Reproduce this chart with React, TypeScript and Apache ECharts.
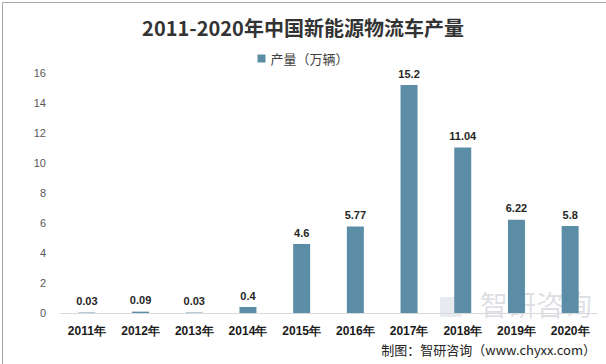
import React, { useEffect, useRef } from "react";
import * as echarts from "echarts";

const categories = ["2011年", "2012年", "2013年", "2014年", "2015年", "2016年", "2017年", "2018年", "2019年", "2020年"];
const production = [0.03, 0.09, 0.03, 0.4, 4.6, 5.77, 15.2, 11.04, 6.22, 5.8];
const seriesName = "产量（万辆）";
const titleText = "2011-2020年中国新能源物流车产量";
const sourceText = "制图：智研咨询（www.chyxx.com）";

export default function App() {
  const ref = useRef<HTMLDivElement>(null);
  useEffect(() => {
    if (!ref.current) return;
    const chart = echarts.init(ref.current, null, { renderer: "svg" });
    chart.setOption({
      animation: false,
      backgroundColor: "#ffffff",
      title: {
        text: titleText,
        left: "center",
        top: 12,
        textStyle: { fontSize: 20, fontWeight: "bold", color: "#333333", fontFamily: "Noto Sans CJK SC" },
      },
      legend: {
        data: [seriesName],
        top: 47,
        left: "center",
        icon: "rect",
        itemWidth: 8,
        itemHeight: 8,
        itemGap: 5,
        textStyle: { fontSize: 13, color: "#404040", fontFamily: "Noto Sans CJK SC" },
      },
      grid: { left: 60, right: 9, top: 73, bottom: 51, containLabel: false },
      xAxis: {
        type: "category",
        data: categories,
        axisLine: { lineStyle: { color: "#d9d9d9" } },
        axisTick: { show: false },
        axisLabel: { fontSize: 12, fontWeight: "bold", color: "#1a1a1a", margin: 12, fontFamily: "Liberation Sans" },
      },
      yAxis: {
        type: "value",
        min: 0,
        max: 16,
        interval: 2,
        splitLine: { show: false },
        axisLine: { show: false },
        axisTick: { show: false },
        axisLabel: { fontSize: 11, color: "#595959", margin: 14, fontFamily: "Liberation Sans" },
      },
      graphic: [
        {
          type: "rect",
          left: 0,
          top: 0,
          shape: { width: 605, height: 363 },
          style: { fill: "none", stroke: "#a6a6a6", lineWidth: 1 },
          silent: true,
        },
        {
          type: "rect",
          left: 440,
          top: 297,
          shape: { width: 22, height: 20, r: 2 },
          style: { fill: "rgba(120,140,170,0.18)" },
          silent: true,
        },
        {
          type: "text",
          right: 14,
          top: 290,
          style: { text: "智研咨询", fontSize: 28, fill: "rgba(120,130,150,0.25)", fontFamily: "Noto Sans CJK SC" },
          silent: true,
        },
        {
          type: "text",
          right: 10,
          top: 343,
          style: { text: sourceText, fontSize: 13, fill: "#222222", fontFamily: "Noto Sans CJK SC" },
        },
      ],
      series: [
        {
          name: seriesName,
          type: "bar",
          data: production,
          barWidth: 17,
          itemStyle: { color: "#5b8ea6" },
          label: {
            show: true,
            position: "top",
            distance: 6,
            fontSize: 11,
            fontWeight: "bold",
            color: "#262626",
            fontFamily: "Liberation Sans",
          },
        },
      ],
    });
    return () => chart.dispose();
  }, []);
  return <div ref={ref} style={{ width: 606, height: 364, position: "absolute", left: 0, top: 0 }} />;
}
